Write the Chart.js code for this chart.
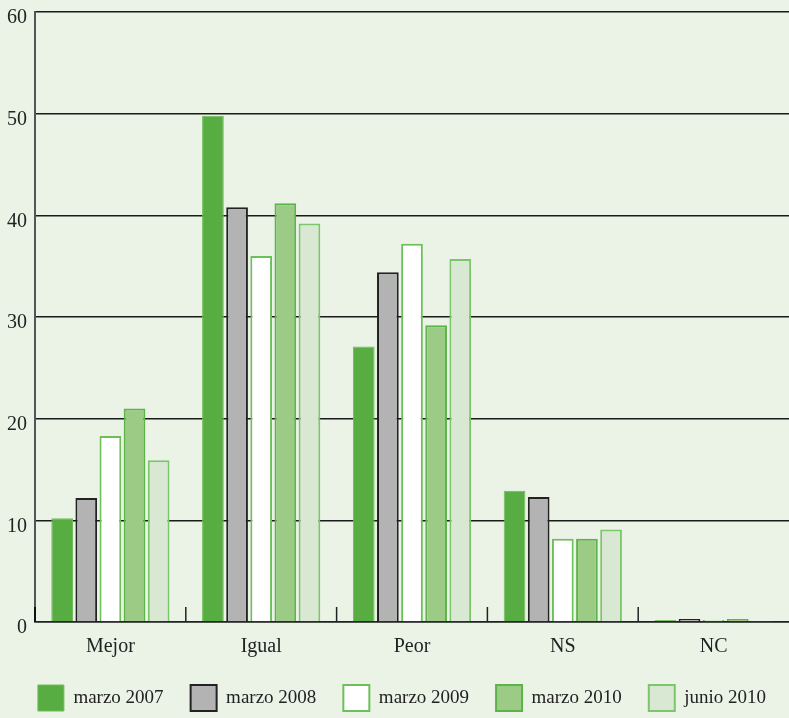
<!DOCTYPE html>
<html>
<head>
<meta charset="utf-8">
<script src="https://cdn.jsdelivr.net/npm/chart.js@4.4.0/dist/chart.umd.min.js"></script>
<style>
html,body{margin:0;padding:0;background:#ebf3e7;}
#wrap{width:789px;height:718px;position:relative;}
</style>
</head>
<body>
<div id="wrap"><canvas id="c" width="789" height="718"></canvas></div>
<script>
const categories = ["Mejor", "Igual", "Peor", "NS", "NC"];
const seriesNames = ["marzo 2007", "marzo 2008", "marzo 2009", "marzo 2010", "junio 2010"];
const marzo2007 = [10.2, 49.8, 27.1, 12.9, 0.2];
const marzo2008 = [12.2, 40.8, 34.4, 12.3, 0.3];
const marzo2009 = [18.3, 36.0, 37.2, 8.2, 0.2];
const marzo2010 = [21.0, 41.2, 29.2, 8.2, 0.3];
const junio2010 = [15.9, 39.2, 35.7, 9.1, 0.1];
const yTicks = [0, 10, 20, 30, 40, 50, 60];

const fills = ["#58ad42", "#b3b3b3", "#ffffff", "#9ccb86", "#d9e8d2"];
const borders = ["#6cbd58", "#222222", "#6cc05a", "#5db34a", "#7dc56b"];
const bw = [1, 2, 2, 2, 2];
const values = [marzo2007, marzo2008, marzo2009, marzo2010, junio2010];

const upTicks = {
  id: 'upTicks',
  afterLayout(chart) {
    if (chart.legend) { chart.legend.left += 8; chart.legend.right += 8; }
  },
  afterDatasetsDraw(chart) {
    const x = chart.scales.x, ctx = chart.ctx, a = chart.chartArea;
    ctx.save();
    ctx.strokeStyle = '#222';
    ctx.lineWidth = 1.5;
    for (let i = 1; i < categories.length; i++) {
      const px = (x.getPixelForValue(i - 1) + x.getPixelForValue(i)) / 2;
      ctx.beginPath();
      ctx.moveTo(px, a.bottom);
      ctx.lineTo(px, a.bottom - 15);
      ctx.stroke();
    }
    ctx.lineWidth = 2;
    ctx.strokeStyle = '#111';
    ctx.beginPath();
    ctx.moveTo(a.left, a.bottom);
    ctx.lineTo(a.left, a.bottom - 15);
    ctx.stroke();
    ctx.restore();
  }
};

Chart.defaults.font.family = "'Liberation Serif', 'DejaVu Serif', serif";
Chart.defaults.font.size = 20;
Chart.defaults.color = '#222';

new Chart(document.getElementById('c'), {
  type: 'bar',
  data: {
    labels: categories,
    datasets: seriesNames.map((n, i) => ({
      label: n,
      data: values[i],
      backgroundColor: fills[i],
      borderColor: borders[i],
      borderWidth: bw[i],
      categoryPercentage: 0.8,
      barPercentage: 0.9
    }))
  },
  options: {
    responsive: false,
    animation: false,
    layout: { padding: { left: -1, right: 0, top: 12, bottom: -3 } },
    plugins: {
      tooltip: { enabled: false },
      legend: {
        position: 'bottom',
        labels: {
          boxWidth: 26,
          boxHeight: 26,
          padding: 27,
          color: '#222',
          font: { size: 19 }
        }
      }
    },
    scales: {
      x: {
        grid: { display: false, drawTicks: false },
        border: { display: true, color: '#222', width: 1.5 },
        ticks: { padding: 13, color: '#222' },
        afterFit(scale) { scale.height -= 14; }
      },
      y: {
        min: 0, max: 60,
        afterBuildTicks(scale) { scale.ticks = yTicks.map(v => ({ value: v })); },
        afterFit(scale) { scale.paddingTop = 0; scale.paddingBottom = 0; },
        grid: { color: '#1a1a1a', lineWidth: 1.5, drawTicks: false },
        border: { display: true, color: '#555', width: 2 },
        ticks: { padding: 8, color: '#222', labelOffset: 6 }
      }
    }
  },
  plugins: [upTicks]
});
</script>
</body>
</html>
